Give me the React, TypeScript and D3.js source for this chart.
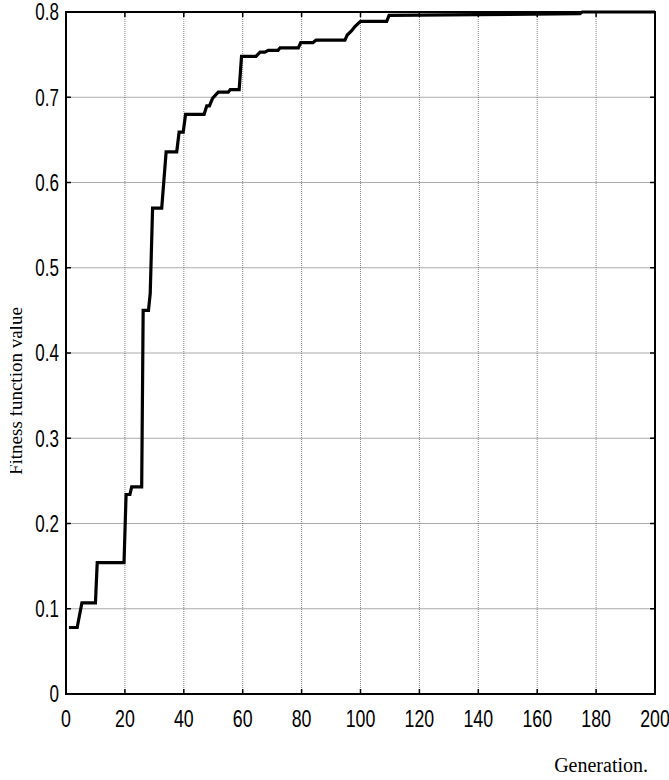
import React from 'react';
import * as d3 from 'd3';

// generation / best fitness (step points)
const generations = [
    1, 3.8, 5.4, 10, 10.6, 19.7, 20.4, 21.7, 22.3, 25.7,
    26.2, 28, 28.6, 29.4, 32.5, 34, 37.6, 38.4, 39.8, 40.6,
    46.9, 47.8, 48.7, 49.8, 51.7, 55.1, 55.8, 58.8, 59.6, 64.5,
    65.9, 67.5, 68.7, 72, 72.7, 78.9, 79.7, 83.8, 84.9, 94.7,
    95.5, 97, 98.1, 100, 108.9, 109.7, 139.5, 174.5, 175.3, 200,
];
const fitness = [
    0.078, 0.078, 0.107, 0.107, 0.154, 0.154, 0.234, 0.234, 0.243, 0.243,
    0.45, 0.45, 0.47, 0.57, 0.57, 0.636, 0.636, 0.659, 0.659, 0.68,
    0.68, 0.69, 0.69, 0.699, 0.706, 0.706, 0.709, 0.709, 0.748, 0.748,
    0.753, 0.753, 0.755, 0.755, 0.758, 0.758, 0.764, 0.764, 0.767, 0.767,
    0.773, 0.778, 0.783, 0.789, 0.789, 0.796, 0.797, 0.798, 0.8, 0.8,
];

const xTicks = [0, 20, 40, 60, 80, 100, 120, 140, 160, 180, 200];
const yTicks = [0, 0.1, 0.2, 0.3, 0.4, 0.5, 0.6, 0.7, 0.8];
const yTickLabels = ['0', '0.1', '0.2', '0.3', '0.4', '0.5', '0.6', '0.7', '0.8'];

const width = 669;
const height = 780;
const margin = { top: 12, right: 14, bottom: 86, left: 66 };

// no narrow font installed, so squeeze the sans one horizontally
const tickFont = '"Liberation Sans", Arial, sans-serif';
const squeeze = 0.74;
const labelFont = '"Liberation Serif", "Times New Roman", serif';

export default function App() {
    const x = d3.scaleLinear().domain([0, 200]).range([margin.left, width - margin.right]);
    const y = d3.scaleLinear().domain([0, 0.8]).range([height - margin.bottom, margin.top]);

    const points: [number, number][] = generations.map((g, i) => [g, fitness[i]]);
    const line = d3.line<[number, number]>().x(d => x(d[0])).y(d => y(d[1]));

    const x0 = x(0), x1 = x(200), y0 = y(0), y1 = y(0.8);
    const tick = 5;

    return (
        <svg width={width} height={height}
            style={{ position: 'absolute', left: 0, top: 0, background: '#fff' }}>
            <defs>
                <clipPath id="labelClip">
                    <rect x={10} y={0} width={60} height={height} />
                </clipPath>
            </defs>

            {/* grid */}
            {yTicks.slice(1, -1).map(t => (
                <line key={'gy' + t} x1={x0} x2={x1} y1={y(t)} y2={y(t)}
                    stroke="#ababab" strokeWidth={1.2} />
            ))}
            {xTicks.slice(1, -1).map(t => (
                <line key={'gx' + t} x1={x(t)} x2={x(t)} y1={y0} y2={y1}
                    stroke="#666" strokeWidth={0.8} strokeDasharray="1 1" />
            ))}

            {/* curve */}
            <path d={line(points) || ''} fill="none" stroke="#000" strokeWidth={3.2}
                strokeLinejoin="miter" />

            {/* box */}
            <rect x={x0} y={y1} width={x1 - x0} height={y0 - y1}
                fill="none" stroke="#000" strokeWidth={2} />

            {/* inward ticks */}
            {xTicks.map(t => (
                <g key={'tx' + t} stroke="#000" strokeWidth={1.5}>
                    <line x1={x(t)} x2={x(t)} y1={y0} y2={y0 - tick} />
                    <line x1={x(t)} x2={x(t)} y1={y1} y2={y1 + tick} />
                </g>
            ))}
            {yTicks.map(t => (
                <g key={'ty' + t} stroke="#000" strokeWidth={1.5}>
                    <line x1={x0} x2={x0 + tick} y1={y(t)} y2={y(t)} />
                    <line x1={x1} x2={x1 - tick} y1={y(t)} y2={y(t)} />
                </g>
            ))}

            {/* tick labels */}
            {xTicks.map(t => (
                <text key={'lx' + t} transform={`translate(${x(t)},727) scale(${squeeze},1)`}
                    textAnchor="middle" fontFamily={tickFont} fontSize={24} fill="#000">{t}</text>
            ))}
            {yTicks.map((t, i) => (
                <text key={'ly' + t} transform={`translate(59,${y(t) + 8.3}) scale(${squeeze},1)`}
                    textAnchor="end" fontFamily={tickFont} fontSize={23} fill="#000">{yTickLabels[i]}</text>
            ))}

            {/* axis titles */}
            <text x={648} y={772} textAnchor="end" fontFamily={labelFont} fontSize={20}
                fill="#000">Generation.</text>
            <g clipPath="url(#labelClip)">
                <text transform="translate(22,475) rotate(-90)" textAnchor="start"
                    fontFamily={labelFont} fontSize={19} fill="#000">Fitness function value</text>
            </g>
        </svg>
    );
}
